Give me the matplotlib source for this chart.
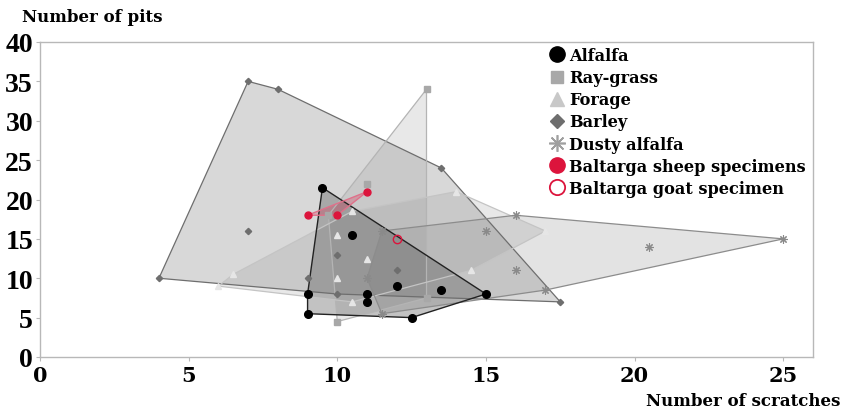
import numpy as np
import matplotlib.pyplot as plt
from matplotlib.lines import Line2D

# scratches (x) and pits (y) per group
alfalfa_x = [9.5, 10.5, 9, 9, 11, 11, 12, 13.5, 12.5, 15]
alfalfa_y = [21.5, 15.5, 8, 5.5, 8, 7, 9, 8.5, 5, 8]

raygrass_x = [13, 9.7, 11, 10, 13]
raygrass_y = [34, 18, 22, 4.5, 7.5]

forage_x = [6, 6.5, 10.5, 14, 17, 14.5, 10.5, 10, 10, 11]
forage_y = [9, 10.5, 18.5, 21, 16, 11, 7, 10, 15.5, 12.5]

barley_x = [7, 8, 4, 7, 13.5, 17.5, 10, 9, 10, 12]
barley_y = [35, 34, 10, 16, 24, 7, 13, 10, 8, 11]

dusty_x = [25, 20.5, 16, 15, 16, 17, 11, 11.5, 11.5]
dusty_y = [15, 14, 18, 16, 11, 8.5, 10, 16, 5.5]

sheep_x = [9, 10, 11]
sheep_y = [18, 18, 21]

goat_x = [12]
goat_y = [15]

RED = "#dc143c"


def hull(xs, ys):
    pts = sorted(set(zip(xs, ys)))
    if len(pts) < 3:
        return pts

    def cross(o, a, b):
        return (a[0] - o[0]) * (b[1] - o[1]) - (a[1] - o[1]) * (b[0] - o[0])

    lower = []
    for p in pts:
        while len(lower) >= 2 and cross(lower[-2], lower[-1], p) <= 0:
            lower.pop()
        lower.append(p)
    upper = []
    for p in reversed(pts):
        while len(upper) >= 2 and cross(upper[-2], upper[-1], p) <= 0:
            upper.pop()
        upper.append(p)
    return lower[:-1] + upper[:-1]


def draw_group(ax, xs, ys, face, alpha, edge, lw):
    h = np.array(hull(xs, ys))
    ax.fill(h[:, 0], h[:, 1], facecolor=face, alpha=alpha, edgecolor="none", zorder=1)
    hc = np.vstack([h, h[:1]])
    ax.plot(hc[:, 0], hc[:, 1], color=edge, lw=lw, zorder=2)


plt.rcParams["font.family"] = ["DejaVu Serif"]
plt.rcParams["font.weight"] = "bold"

fig = plt.figure(figsize=(8.56, 4.14), dpi=100)
ax = fig.add_axes([40 / 856, 56 / 414, 773 / 856, 315 / 414])

draw_group(ax, barley_x, barley_y, "#808080", 0.30, "#6e6e6e", 0.9)
draw_group(ax, raygrass_x, raygrass_y, "#909090", 0.20, "#b4b4b4", 0.9)
draw_group(ax, forage_x, forage_y, "#909090", 0.20, "#c4c4c4", 0.9)
draw_group(ax, dusty_x, dusty_y, "#909090", 0.25, "#8c8c8c", 0.9)
draw_group(ax, alfalfa_x, alfalfa_y, "#505050", 0.35, "#222222", 1.0)
draw_group(ax, sheep_x, sheep_y, RED, 0.25, "#e0708a", 1.0)

ax.plot(barley_x, barley_y, "D", color="#6e6e6e", ms=3.2, ls="none", zorder=3)
ax.plot(raygrass_x, raygrass_y, "s", color="#a8a8a8", ms=4.5, ls="none", zorder=3)
ax.plot(forage_x, forage_y, "^", color="#e6e6e6", ms=5, ls="none", zorder=3)
ax.plot(dusty_x, dusty_y, marker=(8, 2, 0), color="#8a8a8a", ms=6, mew=0.8, ls="none", zorder=3)
ax.plot(alfalfa_x, alfalfa_y, "o", color="black", ms=5.5, ls="none", zorder=4)
ax.plot(sheep_x, sheep_y, "o", color=RED, ms=5, ls="none", zorder=4)
ax.plot(goat_x, goat_y, "o", mfc="none", mec=RED, mew=1.0, ms=6, ls="none", zorder=4)

ax.set_xlim(0, 26)
ax.set_ylim(0, 40)
ax.set_xticks([0, 5, 10, 15, 20, 25])
ax.set_yticks(range(0, 41, 5))
for s in ax.spines.values():
    s.set_color("#b8b8b8")
    s.set_linewidth(1.0)
ax.tick_params(axis="both", colors="#b8b8b8", length=3, width=0.8)
ax.tick_params(axis="x", labelcolor="black", pad=3)
ax.tick_params(axis="y", labelcolor="black", pad=2)
for t in ax.get_xticklabels():
    t.set_fontfamily("DejaVu Serif")
    t.set_fontsize(15)
    t.set_fontweight("bold")
for t in ax.get_yticklabels():
    t.set_fontfamily("Liberation Serif")
    t.set_fontsize(20)
    t.set_fontweight("bold")

fig.text(22 / 856, 1 - 17 / 414, "Number of pits", fontsize=12, fontweight="bold",
         ha="left", va="center")
fig.text(840 / 856, 1 - 402 / 414, "Number of scratches", fontsize=12, fontweight="bold",
         ha="right", va="center")

handles = [
    Line2D([], [], ls="none", marker="o", color="black", ms=11),
    Line2D([], [], ls="none", marker="s", color="#a8a8a8", ms=9),
    Line2D([], [], ls="none", marker="^", color="#c8c8c8", ms=10),
    Line2D([], [], ls="none", marker="D", color="#6e6e6e", ms=7.5),
    Line2D([], [], ls="none", marker=(8, 2, 0), color="#a0a0a0", ms=12, mew=1.2),
    Line2D([], [], ls="none", marker="o", color=RED, ms=11),
    Line2D([], [], ls="none", marker="o", mfc="none", mec=RED, mew=1.3, ms=11),
]
labels = ["Alfalfa", "Ray-grass", "Forage", "Barley", "Dusty alfalfa",
          "Baltarga sheep specimens", "Baltarga goat specimen"]
fig.legend(handles, labels, loc="upper left", bbox_to_anchor=(550 / 856, 1 - 48 / 414),
           frameon=False, prop={"family": "DejaVu Serif", "weight": "bold", "size": 11.6},
           handlelength=0.9, handletextpad=0.3, labelspacing=0.32, borderaxespad=0,
           borderpad=0)

fig.savefig("out.png", dpi=100)
